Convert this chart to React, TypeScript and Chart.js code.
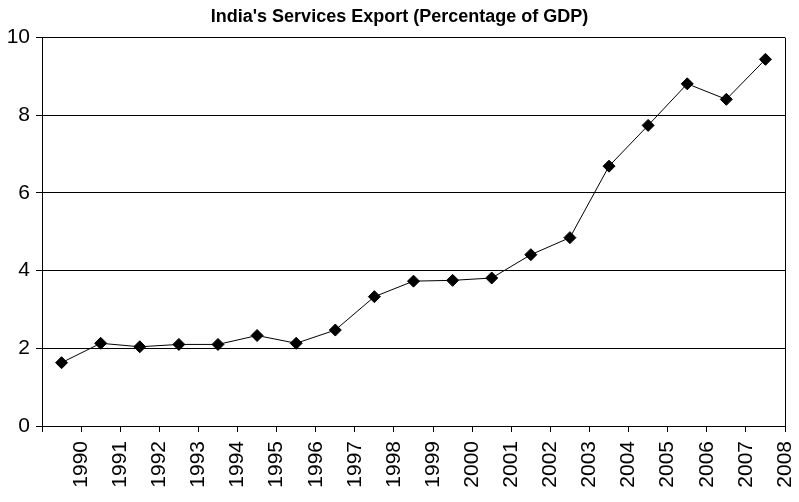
import React, { useEffect, useRef } from "react";
import { Chart, registerables } from "chart.js";

Chart.register(...registerables);

const years = ["1990","1991","1992","1993","1994","1995","1996","1997","1998","1999","2000","2001","2002","2003","2004","2005","2006","2007","2008"];
const exportsPct = [1.63, 2.13, 2.04, 2.10, 2.10, 2.33, 2.13, 2.47, 3.33, 3.73, 3.75, 3.81, 4.41, 4.85, 6.69, 7.74, 8.81, 8.41, 9.44];
const yTicks = [0, 2, 4, 6, 8, 10];
const title = "India's Services Export (Percentage of GDP)";

export default function App() {
  const ref = useRef<HTMLCanvasElement | null>(null);
  useEffect(() => {
    document.body.style.margin = "0";
    const ctx = ref.current!.getContext("2d")!;
    const fontFamily = "'Liberation Sans', Arial, sans-serif";
    const chart = new Chart(ctx, {
      type: "line",
      data: {
        datasets: [
          {
            data: exportsPct.map((v, i) => ({ x: i + 0.5, y: v })),
            borderColor: "#000",
            borderWidth: 1,
            pointStyle: "rectRot",
            pointRadius: 6,
            pointBackgroundColor: "#000",
            pointBorderColor: "#000",
            pointBorderWidth: 1,
            tension: 0,
          },
        ],
      },
      options: {
        animation: false,
        responsive: false,
        layout: { padding: { left: 7, right: 7, top: 5, bottom: 0 } },
        plugins: {
          legend: { display: false },
          tooltip: { enabled: false },
          title: {
            display: true,
            text: title,
            color: "#000",
            font: { family: fontFamily, size: 18, weight: "bold" },
            padding: { top: 1, bottom: 10 },
          },
        },
        scales: {
          x: {
            type: "linear",
            min: 0,
            max: years.length,
            afterFit: (s: any) => {
              s.height = 76;
              s.paddingRight = 14;
              s.paddingLeft = 0;
            },
            ticks: {
              stepSize: 1,
              autoSkip: false,
              maxRotation: 90,
              minRotation: 90,
              color: "#000",
              padding: 9,
              font: { family: fontFamily, size: 21 },
              callback: (v: any) => (v >= 1 && v <= years.length ? years[v - 1] : ""),
            },
            grid: {
              color: (c: any) => (c.tick && c.tick.value === years.length ? "#000" : "rgba(0,0,0,0)"),
              tickColor: "#000",
              tickLength: 6,
              lineWidth: 1,
            },
            border: { color: "#000", width: 1 },
          },
          y: {
            min: 0,
            max: 10,
            afterFit: (s: any) => { s.width = 35; },
            afterBuildTicks: (s: any) => { s.ticks = yTicks.map((v) => ({ value: v })); },
            ticks: {
              color: "#000",
              padding: 6,
              font: { family: fontFamily, size: 21 },
            },
            grid: { color: "#000", tickColor: "#000", tickLength: 6, lineWidth: 1 },
            border: { color: "#000", width: 1 },
          },
        },
      },
    });
    return () => chart.destroy();
  }, []);
  return (
    <div style={{ width: 799, height: 502, background: "#fff" }}>
      <canvas ref={ref} width={799} height={502} style={{ display: "block" }} />
    </div>
  );
}
